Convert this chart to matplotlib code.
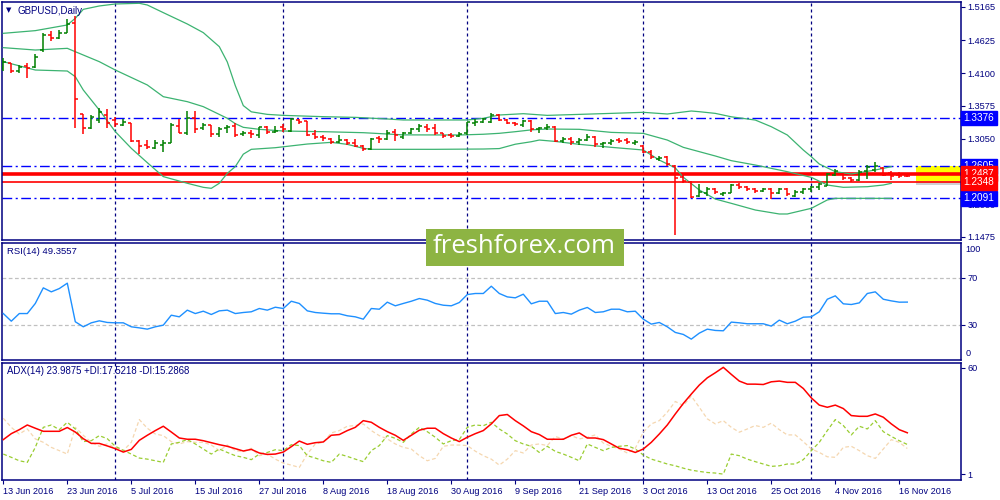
import matplotlib
matplotlib.use('Agg')
import matplotlib.pyplot as plt
from matplotlib.collections import LineCollection
from matplotlib.patches import Rectangle
import matplotlib.transforms as mtransforms

# ---------------- data ----------------
opens = [1.4178,1.4258,1.4135,1.4216,1.4205,1.4472,1.4713,1.4660,1.4751,1.4900,
         1.3440,1.3226,1.3349,1.3429,1.3349,1.3269,1.3295,1.3017,1.2948,1.2905,
         1.2948,1.2985,1.3253,1.3146,1.3376,1.3215,1.3269,1.3119,1.3215,1.3253,
         1.3118,1.3145,1.3108,1.3231,1.3151,1.3241,1.3172,1.3348,1.3338,1.3118,
         1.3081,1.3038,1.3001,1.3027,1.2974,1.2931,1.2878,1.3054,1.3044,1.3161,
         1.3081,1.3145,1.3199,1.3241,1.3215,1.3134,1.3108,1.3092,1.3134,1.3306,
         1.3322,1.3321,1.3429,1.3348,1.3306,1.3268,1.3338,1.3199,1.3215,1.3241,
         1.3011,1.3038,1.2990,1.3027,1.3081,1.2958,1.2974,1.3027,1.3027,1.2985,
         1.2931,1.2840,1.2717,1.2760,1.2610,1.2428,1.2359,1.2129,1.2171,1.2241,
         1.2161,1.2182,1.2305,1.2278,1.2241,1.2214,1.2241,1.2182,1.2241,1.2129,
         1.2198,1.2241,1.2268,1.2295,1.2466,1.2476,1.2412,1.2385,1.2530,1.2546,
         1.2573,1.2503,1.2466,1.2455]
highs = [1.4339,1.4269,1.4232,1.4258,1.4403,1.4740,1.4783,1.4793,1.4965,1.5018,
         1.3445,1.3429,1.3536,1.3520,1.3392,1.3360,1.3306,1.3028,1.3028,1.3028,
         1.3028,1.3306,1.3360,1.3493,1.3493,1.3306,1.3275,1.3231,1.3269,1.3295,
         1.3177,1.3188,1.3241,1.3252,1.3252,1.3279,1.3375,1.3365,1.3338,1.3188,
         1.3108,1.3054,1.3108,1.3038,1.3038,1.2947,1.3054,1.3092,1.3188,1.3199,
         1.3161,1.3225,1.3284,1.3279,1.3279,1.3145,1.3145,1.3161,1.3322,1.3359,
         1.3386,1.3455,1.3445,1.3359,1.3322,1.3348,1.3348,1.3241,1.3279,1.3252,
         1.3081,1.3070,1.3065,1.3124,1.3092,1.3001,1.3038,1.3054,1.3054,1.3027,
         1.2947,1.2867,1.2771,1.2771,1.2621,1.2466,1.2369,1.2316,1.2268,1.2252,
         1.2198,1.2316,1.2332,1.2295,1.2252,1.2252,1.2252,1.2252,1.2262,1.2225,
         1.2252,1.2289,1.2332,1.2492,1.2557,1.2492,1.2439,1.2546,1.2626,1.2680,
         1.2589,1.2530,1.2519,1.2466]
lows = [1.4135,1.4098,1.4098,1.4018,1.4189,1.4435,1.4622,1.4644,1.4740,1.3226,
        1.3119,1.3205,1.3295,1.3215,1.3242,1.3253,1.3001,1.2798,1.2878,1.2878,
        1.2841,1.2974,1.3135,1.3108,1.3146,1.3188,1.3071,1.3071,1.3146,1.3081,
        1.3097,1.3054,1.3065,1.3118,1.3134,1.3161,1.3161,1.3279,1.3097,1.3038,
        1.3017,1.2963,1.2985,1.2947,1.2910,1.2856,1.2867,1.2985,1.3027,1.3017,
        1.3044,1.3124,1.3161,1.3161,1.3108,1.3054,1.3065,1.3070,1.3108,1.3252,
        1.3295,1.3293,1.3332,1.3279,1.3252,1.3231,1.3161,1.3134,1.3188,1.3001,
        1.2985,1.2947,1.2947,1.3017,1.2910,1.2904,1.2947,1.2974,1.2958,1.2947,
        1.2813,1.2717,1.2690,1.2610,1.1503,1.2343,1.2091,1.2107,1.2129,1.2161,
        1.2129,1.2171,1.2241,1.2209,1.2171,1.2188,1.2075,1.2161,1.2134,1.2107,
        1.2155,1.2198,1.2225,1.2289,1.2450,1.2385,1.2359,1.2369,1.2396,1.2519,
        1.2450,1.2385,1.2412,1.2439]
closes = [1.4285,1.4135,1.4205,1.4178,1.4365,1.4713,1.4660,1.4740,1.4890,1.3681,
          1.3226,1.3403,1.3483,1.3306,1.3285,1.3322,1.3017,1.2932,1.2921,1.2974,
          1.2985,1.3269,1.3146,1.3376,1.3199,1.3269,1.3119,1.3199,1.3242,1.3108,
          1.3145,1.3124,1.3231,1.3161,1.3172,1.3199,1.3365,1.3311,1.3108,1.3081,
          1.3054,1.3001,1.3027,1.2974,1.2931,1.2878,1.3044,1.3038,1.3145,1.3108,
          1.3134,1.3199,1.3252,1.3199,1.3145,1.3092,1.3092,1.3124,1.3311,1.3322,
          1.3359,1.3429,1.3348,1.3306,1.3279,1.3332,1.3199,1.3225,1.3241,1.3011,
          1.3038,1.3001,1.3027,1.3081,1.2958,1.2985,1.3017,1.3017,1.3001,1.3001,
          1.2840,1.2760,1.2744,1.2637,1.2423,1.2375,1.2118,1.2198,1.2236,1.2188,
          1.2182,1.2305,1.2268,1.2236,1.2214,1.2241,1.2171,1.2236,1.2161,1.2198,
          1.2241,1.2268,1.2316,1.2476,1.2530,1.2412,1.2385,1.2519,1.2599,1.2610,
          1.2466,1.2450,1.2450,1.2450]

bb_upper_idx = [0,4,8,9,10,12,14,17,18,20,23,25,27,28,29,30,31,33,35,40,44,48,50,58,60,62,65,
                68,72,76,80,83,86,87,89,91,94,96,98,100,101,102,104,106,109,111]
bb_upper = [1.4740,1.4783,1.4874,1.4981,1.5125,1.5179,1.5211,1.5222,1.5195,1.5072,1.4890,1.4751,
            1.4526,1.4280,1.3900,1.3580,1.3480,1.3439,1.3423,1.3402,1.3391,1.3365,1.3349,1.3349,
            1.3376,1.3429,1.3450,1.3423,1.3439,1.3455,1.3472,1.3445,1.3493,1.3482,1.3455,1.3400,
            1.3348,1.3241,1.3108,1.2867,1.2760,1.2642,1.2519,1.2482,1.2546,1.2600]
bb_mid_idx = [0,4,8,9,12,14,18,20,23,25,28,29,30,32,35,40,45,50,57,60,62,64,66,68,72,76,80,83,85,
              89,91,94,98,101,103,105,108,110,111]
bb_mid = [1.4510,1.4472,1.4499,1.4445,1.4285,1.4151,1.3911,1.3723,1.3643,1.3563,1.3376,1.3290,
          1.3231,1.3199,1.3172,1.3161,1.3145,1.3110,1.3108,1.3120,1.3135,1.3161,1.3190,1.3204,
          1.3199,1.3150,1.3134,1.3027,1.2910,1.2771,1.2696,1.2626,1.2519,1.2428,1.2305,1.2268,
          1.2278,1.2305,1.2332]
bb_lower_idx = [0,4,8,9,10,12,14,16,18,20,23,25,26,27,28,29,30,31,34,38,41,43,45,46,54,60,62,64,
                66,67,69,72,76,80,82,84,85,87,89,91,94,97,98,101,103,104,111]
bb_lower = [1.4285,1.4151,1.4135,1.4044,1.3830,1.3509,1.3162,1.2894,1.2664,1.2440,1.2333,1.2268,
            1.2252,1.2333,1.2493,1.2600,1.2800,1.2878,1.2904,1.2963,1.2990,1.2958,1.2894,1.2878,
            1.2878,1.2883,1.2890,1.2960,1.3000,1.3027,1.3005,1.2958,1.2910,1.2867,1.2706,1.2580,
            1.2430,1.2225,1.2080,1.2011,1.1904,1.1840,1.1840,1.1931,1.2065,1.2091,1.2091]

rsi = [39.6,33.1,39.6,39.6,48.2,61.5,58.1,60.9,65.5,32.6,
       28.3,31.7,33.4,32.0,31.7,31.7,28.3,27.4,26.3,28.3,
       29.7,38.2,36.8,42.5,39.6,41.6,38.8,41.9,42.5,39.6,
       40.5,41.1,43.9,42.5,45.0,43.9,50.1,48.2,41.9,40.5,
       39.9,39.4,39.4,37.7,36.8,34.8,43.9,43.3,49.3,46.2,
       48.2,50.1,52.4,51.0,48.2,46.7,46.2,49.0,55.8,56.7,
       56.7,62.9,56.7,53.8,53.0,56.1,47.9,50.1,50.1,39.6,
       40.5,39.1,42.5,44.8,40.5,41.1,43.3,43.3,41.1,41.6,
       34.8,30.6,32.0,28.3,23.5,21.8,17.8,22.9,26.3,25.2,
       24.9,32.3,31.7,30.9,30.9,30.9,28.9,34.0,30.9,33.1,
       36.5,36.8,41.1,51.8,54.7,47.9,47.3,48.7,56.7,58.1,
       51.8,50.4,49.3,49.36]
adx = [20.2,23.5,25.7,28.3,26.5,24.8,24.8,24.8,26.9,24.4,
       20.7,18.1,18.1,16.7,15.2,13.3,14.8,19.8,22.6,25.2,
       27.6,24.4,21.1,20.4,20.4,19.6,18.5,17.4,16.5,15.2,
       13.9,14.8,12.8,12.0,12.2,13.3,16.3,19.4,17.6,18.5,
       18.9,22.6,23.0,25.2,27.0,30.7,29.8,27.0,24.6,22.6,
       19.8,22.6,25.4,26.5,26.5,23.5,21.1,19.1,21.5,23.5,
       25.2,28.9,33.5,34.1,30.7,27.8,24.6,23.0,20.4,20.4,
       20.4,22.6,23.9,21.1,21.1,20.2,17.8,15.4,14.6,13.1,
       15.0,18.7,23.3,28.3,34.4,40.2,45.4,50.4,54.4,57.2,
       60.2,56.3,52.6,50.9,50.9,50.7,52.2,52.6,51.9,51.9,
       48.5,43.3,39.3,38.1,39.3,37.4,33.5,33.1,33.1,34.4,
       32.6,28.9,25.7,23.99]
plus_di = [12.2,10.4,8.5,7.6,15.9,27.0,28.3,25.7,29.8,26.1,
           19.1,19.6,22.4,20.7,16.5,14.3,12.2,10.0,9.4,8.5,
           7.6,17.8,18.7,20.2,17.8,15.0,12.2,15.0,13.1,11.3,
           10.4,9.1,12.2,13.1,14.6,14.1,17.4,16.9,11.3,10.0,
           8.5,7.6,12.2,10.9,9.4,8.0,14.1,16.9,22.4,20.9,
           18.7,23.3,27.0,24.6,21.5,17.8,19.6,20.2,27.0,28.3,
           27.9,29.8,26.1,23.3,19.6,17.8,16.5,13.1,16.5,13.7,
           12.2,10.4,8.5,17.8,15.9,14.1,15.9,16.5,16.9,15.0,
           11.7,9.4,8.1,6.7,5.7,4.4,3.3,2.6,2.0,1.7,
           1.1,12.2,11.3,9.4,8.0,6.7,5.4,5.7,6.7,6.7,
           9.1,14.1,18.7,25.2,31.3,28.0,22.8,27.6,26.1,30.7,
           24.6,22.0,19.6,17.52]
minus_di = [32.0,27.0,23.3,26.1,20.6,18.7,15.9,14.1,12.2,27.0,
            22.6,18.7,16.5,17.8,15.9,14.1,18.7,31.3,26.5,23.3,
            22.4,19.1,17.8,19.1,18.7,18.7,17.2,14.1,17.2,14.1,
            13.5,15.4,11.3,12.2,9.4,7.2,6.1,4.8,12.2,17.8,
            18.7,23.9,25.2,27.6,28.0,28.9,25.2,22.4,20.6,17.8,
            15.9,15.0,11.3,8.5,9.8,16.5,17.2,17.2,16.9,13.8,
            11.3,9.4,6.1,9.4,14.1,12.8,17.2,17.8,16.9,21.9,
            20.6,22.4,20.6,21.5,22.8,18.3,16.5,15.0,12.8,15.4,
            24.3,28.9,30.7,35.4,41.3,39.1,44.3,38.1,31.7,28.9,
            30.7,27.0,24.3,26.1,28.0,27.0,29.3,25.7,22.8,22.8,
            19.1,15.0,13.1,10.7,10.4,15.9,16.5,14.1,11.3,9.8,
            15.0,20.2,18.7,15.29]

date_labels = ['13 Jun 2016', '23 Jun 2016', '5 Jul 2016', '15 Jul 2016', '27 Jul 2016',
               '8 Aug 2016', '18 Aug 2016', '30 Aug 2016', '9 Sep 2016', '21 Sep 2016',
               '3 Oct 2016', '13 Oct 2016', '25 Oct 2016', '4 Nov 2016', '16 Nov 2016']
month_start_bars = [14, 35, 58, 80, 101]
price_ticks = [1.5165, 1.4625, 1.4100, 1.3575, 1.3050, 1.2000, 1.1475]
blue_levels = [1.3376, 1.2605, 1.2091]
red_thick_level = 1.2487
red_thin_level = 1.2348
zone_low, zone_high = 1.2375, 1.2605

# ---------------- figure ----------------
W, H = 1000, 500
fig = plt.figure(figsize=(10, 5), dpi=100)
fig.patch.set_facecolor('white')
NAVY = '#000080'
FONT = 'Liberation Sans'
FS = 6.6

def px_axes(x0, y0, x1, y1):
    return fig.add_axes([x0 / W, 1 - y1 / H, (x1 - x0) / W, (y1 - y0) / H])

X0, X1 = 2.3, 961.0
ax = px_axes(X0, 1.7, X1, 240.0)
ax_rsi = px_axes(X0, 242.7, X1, 360.0)
ax_adx = px_axes(X0, 362.7, X1, 480.0)

n = len(closes)
xlim = ((X0 - 3.3) / 8.0, (X1 - 3.3) / 8.0)

for a in (ax, ax_rsi, ax_adx):
    a.set_xlim(*xlim)
    a.set_facecolor('white')
    for s in a.spines.values():
        s.set_color(NAVY)
        s.set_linewidth(1.1)
    a.yaxis.tick_right()
    a.tick_params(axis='y', direction='out', length=3, width=0.8, color=NAVY,
                  labelsize=FS, labelcolor=NAVY, pad=1.5)
    a.tick_params(axis='x', bottom=False, labelbottom=False)
    for i in month_start_bars:
        a.axvline(i, color=NAVY, lw=0.9, ls=(0, (2.4, 2.4)), zorder=1)

# ---- main price panel ----
ax.set_ylim(1.14225, 1.52476)
ax.set_yticks(price_ticks)
ax.set_yticklabels(['%.4f' % v for v in price_ticks], fontfamily=FONT)

ax.add_patch(Rectangle((114.1, zone_low), xlim[1] - 114.1, zone_high - zone_low,
                       facecolor='#ffff00', edgecolor='none', zorder=1.5))
ax.add_patch(Rectangle((114.1, zone_low - 0.0075), xlim[1] - 114.1, 0.0075,
                       facecolor='#7a7a7a', edgecolor='none', alpha=0.35, zorder=1.4))

for lvl in blue_levels:
    ax.axhline(lvl, color='#0000ff', lw=1.0, ls=(0, (7, 2.5, 1.5, 2.5)), zorder=2)
ax.axhline(red_thick_level, color='#ff0000', lw=2.6, zorder=2.5)
ax.axhline(red_thin_level, color='#ff0000', lw=1.2, zorder=2.5)

band_col = '#3cb371'
ax.plot(bb_upper_idx, bb_upper, color=band_col, lw=0.9, zorder=3)
ax.plot(bb_mid_idx, bb_mid, color=band_col, lw=0.9, zorder=3)
ax.plot(bb_lower_idx, bb_lower, color=band_col, lw=0.9, zorder=3)

segs, cols = [], []
tk = 0.375
for i in range(n):
    o, h, l, c = opens[i], highs[i], lows[i], closes[i]
    col = '#008000' if c >= o else '#ff0000'
    segs += [[(i, l), (i, h)], [(i - tk, o), (i, o)], [(i, c), (i + tk, c)]]
    cols += [col] * 3
ax.add_collection(LineCollection(segs, colors=cols, linewidths=1.1, zorder=4,
                                 capstyle='butt'))

trans = mtransforms.blended_transform_factory(ax.transAxes, ax.transData)
def box_label(v, color, z):
    ax.text(1.0028, v, '%.4f' % v, transform=trans, ha='left', va='center',
            fontsize=FS + 0.6, fontfamily=FONT, color='white', clip_on=False, zorder=z,
            bbox=dict(boxstyle='square,pad=0.22', facecolor=color, edgecolor=color))
for lvl in blue_levels:
    box_label(lvl, '#0000ff', 10)
box_label(red_thick_level, '#ff0000', 11)
box_label(red_thin_level, '#ff0000', 12)

fig.text(6 / W, 1 - 10.5 / H, '\u25bc', fontsize=5, color=NAVY, ha='left', va='center')
fig.text(17 / W, 1 - 10.5 / H, 'GBPUSD,Daily', fontsize=FS + 0.4, color=NAVY,
         fontfamily=FONT, ha='left', va='center')

# ---- RSI panel ----
ax_rsi.set_ylim(0, 100)
ax_rsi.set_yticks([70, 30])
ax_rsi.set_yticklabels(['70', '30'], fontfamily=FONT)
for lvl in (70, 30):
    ax_rsi.axhline(lvl, color='#c0c0c0', lw=0.9, ls=(0, (3, 2)), zorder=1)
rtrans = mtransforms.blended_transform_factory(ax_rsi.transAxes, ax_rsi.transData)
ax_rsi.text(1.0045, 94.5, '100', transform=rtrans, fontsize=FS, color=NAVY, fontfamily=FONT,
            ha='left', va='center', clip_on=False)
ax_rsi.text(1.0045, 5.5, '0', transform=rtrans, fontsize=FS, color=NAVY, fontfamily=FONT,
            ha='left', va='center', clip_on=False)
ax_rsi.plot(range(n), rsi, color='#1e90ff', lw=1.0, zorder=3)
fig.text(7 / W, 1 - 251 / H, 'RSI(14) 49.3557', fontsize=FS + 0.2, color=NAVY, fontfamily=FONT,
         ha='left', va='center')

# ---- ADX panel ----
ax_adx.set_ylim(-2.15, 62.77)
ax_adx.set_yticks([60, 1])
ax_adx.set_yticklabels(['60', '1'], fontfamily=FONT)
ax_adx.plot(range(n), minus_di, color='#f5d7b0', lw=0.9, ls=(0, (3, 2)), zorder=2)
ax_adx.plot(range(n), plus_di, color='#9acd32', lw=0.9, ls=(0, (3, 2)), zorder=2.5)
ax_adx.plot(range(n), adx, color='#ff0000', lw=1.1, zorder=3)
fig.text(7 / W, 1 - 371 / H, 'ADX(14) 23.9875 +DI:17.5218 -DI:15.2868', fontsize=FS + 0.3,
         color=NAVY, fontfamily=FONT, ha='left', va='center')

ax_adx.tick_params(axis='x', bottom=True, labelbottom=True, direction='out', length=3,
                   width=0.8, color=NAVY, labelsize=FS, labelcolor=NAVY, pad=2)
ax_adx.set_xticks(list(range(0, 8 * len(date_labels), 8)))
ax_adx.set_xticklabels(date_labels, fontfamily=FONT)
for lab in ax_adx.get_xticklabels():
    lab.set_horizontalalignment('left')

# ---- watermark ----
fig.patches.append(Rectangle((426 / W, 1 - 266 / H), 198 / W, 37 / H,
                             transform=fig.transFigure, facecolor='#8db443',
                             edgecolor='none', zorder=20))
fig.text(524 / W, 1 - 246.5 / H, 'freshforex.com', fontsize=18.5, color='white',
         fontfamily='Open Sans', ha='center', va='center', zorder=21)

fig.savefig('out.png', dpi=100, facecolor='white')
